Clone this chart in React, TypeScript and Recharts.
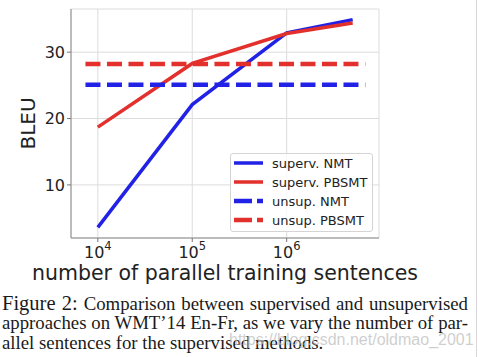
import { LineChart, Line, XAxis, YAxis, CartesianGrid, Label } from "recharts";

const supervX = [1e4, 1e5, 1e6, 5e6];
const supervNmt = [3.6, 22.1, 32.9, 34.9];
const supervPbsmt = [18.7, 28.3, 32.8, 34.4];
const unsupX = [7400, 6.8e6];
const unsupNmt = [25.1, 25.1];
const unsupPbsmt = [28.2, 28.2];

const xTicks = [1e4, 1e5, 1e6];
const xMinorTicks = [
  6e3, 7e3, 8e3, 9e3,
  2e4, 3e4, 4e4, 5e4, 6e4, 7e4, 8e4, 9e4,
  2e5, 3e5, 4e5, 5e5, 6e5, 7e5, 8e5, 9e5,
  2e6, 3e6, 4e6, 5e6, 6e6, 7e6, 8e6, 9e6,
];
const yTicks = [10, 20, 30];

const BLUE = "#2222e6";
const RED = "#e2302c";
const FONT = "'DejaVu Sans', sans-serif";

const pts = (xs: number[], ys: number[]) => xs.map((x, i) => ({ x, y: ys[i] }));

const series = [
  { name: "superv. NMT", data: pts(supervX, supervNmt), color: BLUE, dashed: false },
  { name: "superv. PBSMT", data: pts(supervX, supervPbsmt), color: RED, dashed: false },
  { name: "unsup. NMT", data: pts(unsupX, unsupNmt), color: BLUE, dashed: true },
  { name: "unsup. PBSMT", data: pts(unsupX, unsupPbsmt), color: RED, dashed: true },
];

const XTick = (props: any) => {
  const { x, y, payload } = props;
  const exp = Math.round(Math.log10(payload.value));
  return (
    <text x={x} y={y + 14} textAnchor="middle" fontSize={16} fill="#222" fontFamily={FONT}>
      <tspan>10</tspan>
      <tspan dy={-8} fontSize={11.5}>{exp}</tspan>
    </text>
  );
};

const LegendBox = () => (
  <div
    style={{
      position: "absolute",
      left: 230,
      top: 153,
      width: 143,
      height: 79,
      boxSizing: "border-box",
      border: "1px solid #d4d4d4",
      borderRadius: 3,
      background: "rgba(255,255,255,0.8)",
    }}
  >
    <svg width={141} height={77} style={{ display: "block" }}>
      {series.map((s, i) => (
        <g key={s.name}>
          <line
            x1={3}
            x2={32}
            y1={9 + i * 19}
            y2={9 + i * 19}
            stroke={s.color}
            strokeWidth={s.dashed ? 4.5 : 3.5}
            strokeDasharray={s.dashed ? "18 5" : undefined}
          />
          <text x={41} y={9 + i * 19} dominantBaseline="central" fontSize={13} fill="#222" fontFamily={FONT}>
            {s.name}
          </text>
        </g>
      ))}
    </svg>
  </div>
);

export default function App() {
  return (
    <div style={{ position: "absolute", left: 0, top: 0, width: 478, height: 357, background: "#fff" }}>
      <LineChart width={478} height={290} margin={{ top: 9, right: 99, bottom: 0, left: 0 }}>
        <CartesianGrid stroke="#dcdcdc" strokeWidth={1} />
        <XAxis
          xAxisId="minor"
          type="number"
          scale="log"
          domain={[5200, 9.5e6]}
          ticks={xMinorTicks}
          tick={false}
          tickSize={2}
          axisLine={false}
          tickLine={{ stroke: "#777" }}
          height={0}
          allowDataOverflow
        />
        <XAxis
          dataKey="x"
          type="number"
          scale="log"
          domain={[5200, 9.5e6]}
          ticks={xTicks}
          tick={<XTick />}
          tickSize={4}
          tickMargin={2}
          axisLine={{ stroke: "#8a8a8a" }}
          tickLine={{ stroke: "#777" }}
          height={52}
          allowDataOverflow
        >
          <Label
            content={(p: any) => (
              <text
                x={p.viewBox.x + p.viewBox.width / 2}
                y={p.viewBox.y + 42}
                textAnchor="middle"
                fontSize={20.5}
                fill="#222"
                fontFamily={FONT}
              >
                number of parallel training sentences
              </text>
            )}
          />
        </XAxis>
        <XAxis
          xAxisId="top"
          orientation="top"
          type="number"
          scale="log"
          domain={[5200, 9.5e6]}
          tick={false}
          tickLine={false}
          axisLine={{ stroke: "#8a8a8a" }}
          height={0}
        />
        <YAxis
          type="number"
          domain={[2, 36.5]}
          ticks={yTicks}
          tickSize={4}
          tickMargin={2}
          tick={{ fontSize: 16, fill: "#222", fontFamily: FONT }}
          axisLine={{ stroke: "#8a8a8a" }}
          tickLine={{ stroke: "#777" }}
          width={71}
          allowDataOverflow
        >
          <Label
            content={(p: any) => {
              const cx = 28;
              const cy = p.viewBox.y + p.viewBox.height / 2;
              return (
                <text
                  x={cx}
                  y={cy}
                  transform={`rotate(-90, ${cx}, ${cy})`}
                  textAnchor="middle"
                  dominantBaseline="central"
                  fontSize={20}
                  fill="#222"
                  fontFamily={FONT}
                >
                  BLEU
                </text>
              );
            }}
          />
        </YAxis>
        <YAxis
          yAxisId="right"
          orientation="right"
          type="number"
          domain={[2, 36.5]}
          tick={false}
          tickLine={false}
          axisLine={{ stroke: "#8a8a8a" }}
          width={0}
        />
        {series.map((s) => (
          <Line
            key={s.name}
            data={s.data}
            dataKey="y"
            name={s.name}
            type="linear"
            stroke={s.color}
            strokeWidth={s.dashed ? 4.5 : 3.5}
            strokeDasharray={s.dashed ? "15 6.5" : undefined}
            dot={false}
            activeDot={false}
            isAnimationActive={false}
          />
        ))}
      </LineChart>
      <LegendBox />
      <div
        style={{
          position: "absolute",
          left: 2,
          top: 293,
          width: 466,
          fontFamily: "'Liberation Serif', 'Times New Roman', serif",
          fontSize: 18.8,
          lineHeight: "20px",
          color: "#1a1a1a",
        }}
      >
        <div style={{ textAlign: "justify", textAlignLast: "justify", whiteSpace: "nowrap", height: 20 }}>
          <span style={{ fontSize: 20.5 }}>Figure 2:</span> Comparison between supervised and unsupervised
        </div>
        <div style={{ textAlign: "justify", textAlignLast: "justify", whiteSpace: "nowrap", height: 20 }}>
          approaches on WMT’14 En-Fr, as we vary the number of par-
        </div>
        <div style={{ whiteSpace: "nowrap" }}>allel sentences for the supervised methods.</div>
      </div>
      <div
        style={{
          position: "absolute",
          left: 229,
          top: 331,
          fontFamily: "'Liberation Sans', Arial, sans-serif",
          fontSize: 16,
          color: "rgba(190,190,190,0.75)",
          whiteSpace: "nowrap",
        }}
      >
        https://blog.csdn.net/oldmao_2001
      </div>
      <div style={{ position: "absolute", left: 476, top: 0, width: 1, height: 357, background: "#d8d8d8" }} />
    </div>
  );
}
